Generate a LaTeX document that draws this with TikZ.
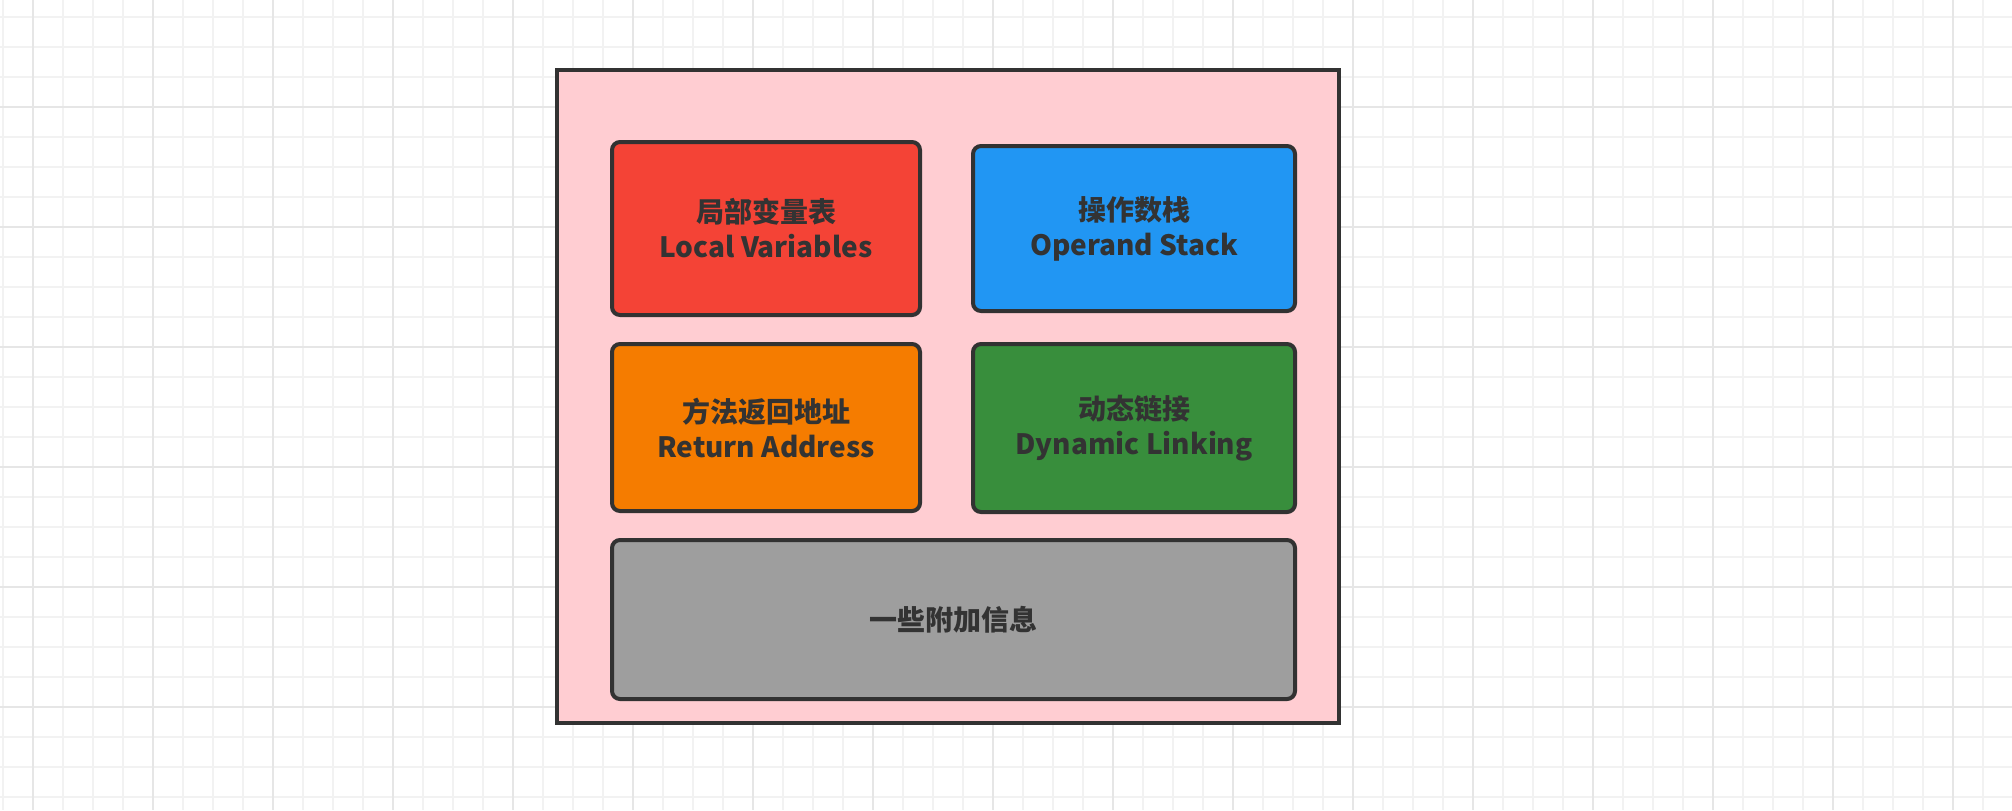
\documentclass[tikz,border=0pt]{standalone}
\usepackage{fontspec}
\setmainfont{Noto Sans CJK SC}
\definecolor{pinkbg}{HTML}{FFCDD2}
\definecolor{redbox}{HTML}{F44336}
\definecolor{bluebox}{HTML}{2196F3}
\definecolor{orangebox}{HTML}{F57C00}
\definecolor{greenbox}{HTML}{388E3C}
\definecolor{graybox}{HTML}{9E9E9E}
\definecolor{edgec}{HTML}{323232}
\definecolor{txtc}{HTML}{333333}
\definecolor{gridminor}{HTML}{F2F2F2}
\definecolor{gridmajor}{HTML}{E6E6E6}
\tikzset{
  cell/.style={draw=edgec, line width=2pt, rounded corners=4pt, text=txtc,
    align=center, inner sep=0pt,
    font={\bfseries\fontsize{14}{17.5}\selectfont}},
  frame/.style={draw=edgec, line width=2pt, fill=pinkbg, inner sep=0pt},
}
\begin{document}
\begin{tikzpicture}[x=0.5pt, y=-0.5pt]
\useasboundingbox (0,0) rectangle (2012,810);
\fill[white] (0,0) rectangle (2012,810);
% grid
\foreach \x in {3,33,...,2013} \draw[gridminor, line width=1pt] (\x,0) -- (\x,810);
\foreach \y in {17,47,...,827} \draw[gridminor, line width=1pt] (0,\y) -- (2012,\y);
\foreach \x in {33,153,...,2013} \draw[gridmajor, line width=1pt] (\x,0) -- (\x,810);
\foreach \y in {107,227,...,827} \draw[gridmajor, line width=1pt] (0,\y) -- (2012,\y);
% outer frame
\node[frame, minimum width=391pt, minimum height=326.5pt] (frame) at (948,396.5) {};
% cells
\node[cell, fill=redbox, minimum width=154pt, minimum height=86.5pt] (lv) at (766,228.5)
  {局部变量表\\Local Variables};
\node[cell, fill=bluebox, minimum width=161pt, minimum height=82.5pt] (os) at (1134,228.5)
  {操作数栈\\Operand Stack};
\node[cell, fill=orangebox, minimum width=154pt, minimum height=83.5pt] (ra) at (766,427.5)
  {方法返回地址\\Return Address};
\node[cell, fill=greenbox, minimum width=161pt, minimum height=84pt] (dl) at (1134,428)
  {动态链接\\Dynamic Linking};
\node[cell, fill=graybox, minimum width=341.5pt, minimum height=79.5pt] (ai) at (953.5,619.5)
  {一些附加信息};
\end{tikzpicture}
\end{document}
